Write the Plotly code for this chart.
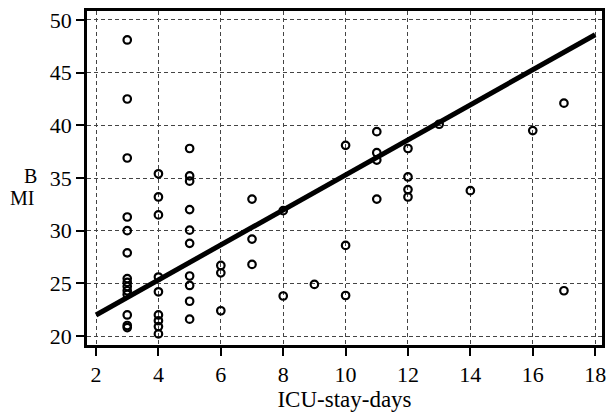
import plotly.graph_objects as go

# ICU stay days vs BMI
icu_days = [3, 3, 3, 3, 3, 3, 3, 3, 3, 3, 3, 3, 3, 3,
            4, 4, 4, 4, 4, 4, 4, 4, 4,
            5, 5, 5, 5, 5, 5, 5, 5, 5, 5,
            6, 6, 6,
            7, 7, 7,
            8, 8,
            9,
            10, 10, 10,
            11, 11, 11, 11,
            12, 12, 12, 12,
            13,
            14,
            16,
            17, 17]
bmi = [48.1, 42.5, 36.9, 31.3, 30.0, 27.9, 25.45, 25.1, 24.7, 24.3, 23.95, 22.0, 21.0, 20.8,
       35.4, 33.2, 31.5, 25.6, 24.2, 22.0, 21.45, 20.9, 20.2,
       37.8, 35.2, 34.7, 32.0, 30.05, 28.8, 25.7, 24.8, 23.3, 21.6,
       26.7, 26.0, 22.4,
       33.0, 29.2, 26.8,
       31.9, 23.8,
       24.9,
       38.1, 28.6, 23.85,
       39.4, 37.4, 36.7, 33.0,
       37.8, 35.1, 33.9, 33.2,
       40.1,
       33.8,
       39.5,
       42.1, 24.3]

# fitted regression line endpoints
fit_x = [2, 18]
fit_y = [22.0, 48.6]

x_ticks = [2, 4, 6, 8, 10, 12, 14, 16, 18]
y_ticks = [20, 25, 30, 35, 40, 45, 50]

FONT = "Liberation Serif"

fig = go.Figure()
fig.add_trace(go.Scatter(
    x=fit_x, y=fit_y, mode="lines",
    line=dict(color="black", width=5),
    showlegend=False, hoverinfo="skip"))
fig.add_trace(go.Scatter(
    x=icu_days, y=bmi, mode="markers",
    marker=dict(symbol="circle-open", size=7.5, color="black",
                line=dict(width=2.2, color="black")),
    showlegend=False))

axis_common = dict(
    showline=True, linecolor="black", linewidth=2.5, mirror=True,
    ticks="outside", ticklen=8, tickwidth=2, tickcolor="black",
    showgrid=True, gridcolor="#444444", gridwidth=1, griddash="4px,3px",
    zeroline=False,
    tickfont=dict(family=FONT, size=22, color="black"),
)

fig.update_xaxes(range=[1.71, 18.22], tickvals=x_ticks,
                 title=dict(text="ICU-stay-days",
                            font=dict(family=FONT, size=23, color="black"),
                            standoff=0),
                 **axis_common)
fig.update_yaxes(range=[19.15, 50.85], tickvals=y_ticks, ticklabelstandoff=0,
                 **axis_common)

fig.add_annotation(text="B", xref="paper", yref="y", x=(30.5 - 87) / 518, y=35.2,
                   xanchor="center", yanchor="middle",
                   showarrow=False, font=dict(family=FONT, size=20, color="black"))
fig.add_annotation(text="MI", xref="paper", yref="y", x=(22 - 87) / 518, y=33.1,
                   xanchor="center", yanchor="middle",
                   showarrow=False, font=dict(family=FONT, size=20, color="black"))

fig.update_layout(
    width=607, height=412,
    margin=dict(l=87, r=2, t=11, b=67),
    plot_bgcolor="white", paper_bgcolor="white",
)

fig.write_html("out.html", config={"displayModeBar": False},
               post_script="document.body.style.margin='0';document.body.style.overflow='hidden';")
